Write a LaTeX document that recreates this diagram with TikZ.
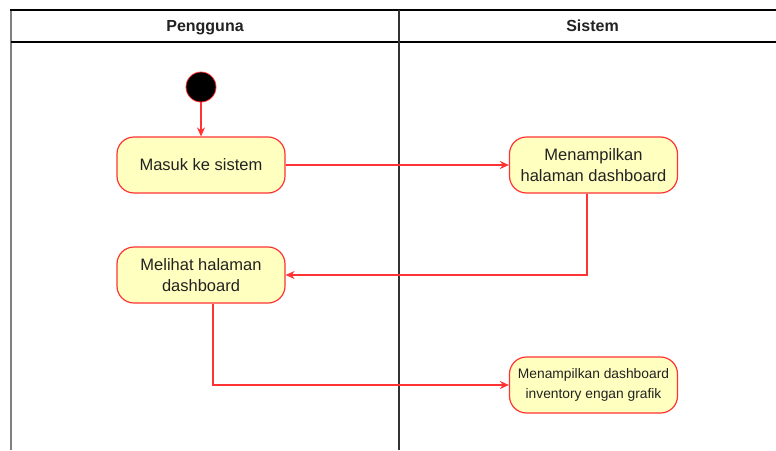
\documentclass[tikz,border=0pt]{standalone}
\usepackage{fontspec}
\setmainfont{Liberation Sans}
\usetikzlibrary{arrows.meta}
\definecolor{actfill}{HTML}{FFFFC0}
\definecolor{actline}{HTML}{FF3333}
\definecolor{txt}{HTML}{222222}
\begin{document}
\begin{tikzpicture}[x=1pt,y=-1pt,
  activity/.style={rectangle, draw=actline, fill=actfill, line width=1.2pt,
    rounded corners=17pt, minimum width=168pt, minimum height=56pt,
    align=center, text=txt, inner sep=0pt,
    font=\fontsize{16.5}{21}\selectfont},
  smalltext/.style={font=\fontsize{13.8}{20.5}\selectfont},
  flow/.style={draw=actline, line width=1.2pt, -{Stealth[length=9pt,width=8pt]}},
  lanehead/.style={font=\bfseries\fontsize{16}{19}\selectfont, text=txt, anchor=base},
  laneline/.style={line width=1.3pt}]
\useasboundingbox (0,0) rectangle (776,450);

% swimlanes
\draw[laneline, draw=black!50] (11,450) -- (11,10);
\draw[laneline] (10.4,10) -- (776,10);
\draw[laneline] (11,42) -- (776,42);
\draw[line width=2pt, draw=black!80] (399,10) -- (399,450);
\node[lanehead] (h1) at (205,31.5) {Pengguna};
\node[lanehead] (h2) at (592.5,31.5) {Sistem};

% start state
\node[circle, fill=black, draw=actline, line width=0.8pt, minimum size=30pt, inner sep=0pt] (start) at (201,87) {};

% activities
\node[activity] (a1) at (201,165) {Masuk ke sistem};
\node[activity] (a2) at (593.5,165) {Menampilkan\\halaman dashboard};
\node[activity] (a3) at (201,275) {Melihat halaman\\dashboard};
\node[activity, smalltext] (a4) at (593.5,385) {Menampilkan dashboard\\inventory engan grafik};

% transitions
\draw[flow] (start) -- (a1);
\draw[flow] (a1) -- (a2);
\draw[flow] ([xshift=-6.5pt]a2.south) |- (a3.east);
\draw[flow] ([xshift=12pt]a3.south) |- (a4.west);
\end{tikzpicture}
\end{document}
